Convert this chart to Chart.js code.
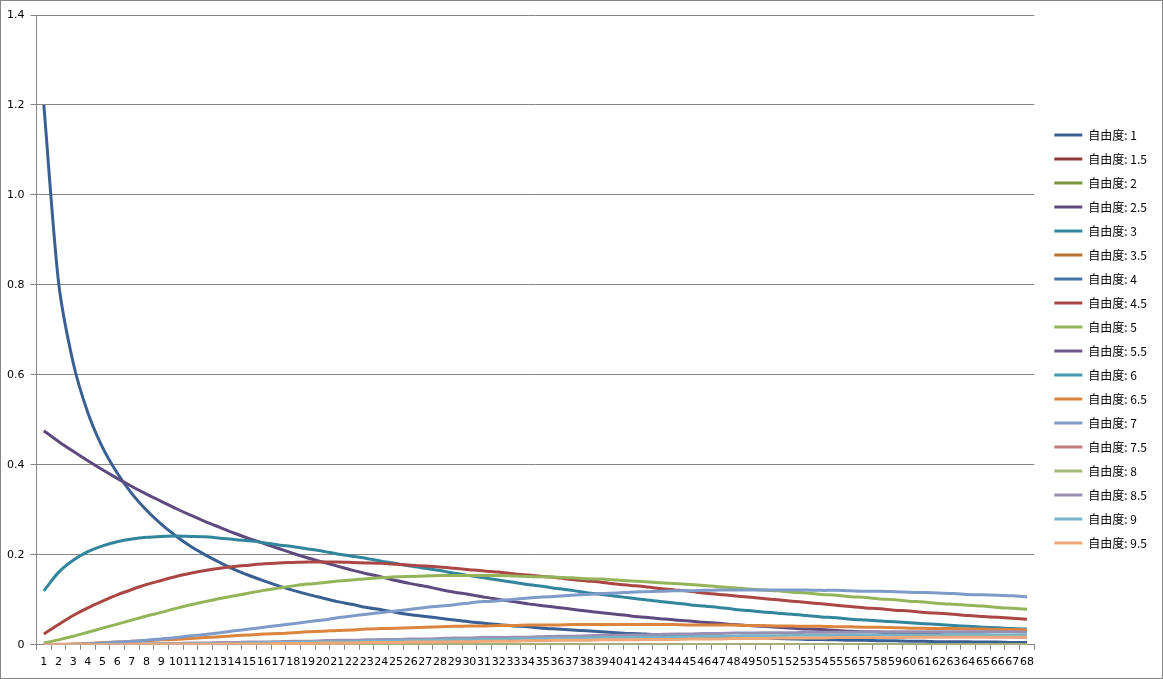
<!DOCTYPE html>
<html>
<head>
<meta charset="utf-8">
<script src="https://cdn.jsdelivr.net/npm/chart.js@4.4.1/dist/chart.umd.min.js"></script>
<style>
  html, body { margin: 0; padding: 0; background: #fff; }
  #wrap { width: 1163px; height: 679px; box-sizing: border-box; border: 1px solid #868686; }
</style>
</head>
<body>
<div id="wrap"><canvas id="chart" width="1161" height="677"></canvas></div>
<script>
// x categories
const labels = [1,2,3,4,5,6,7,8,9,10,11,12,13,14,15,16,17,18,19,20,21,22,23,24,25,26,27,28,29,30,31,32,33,34,
  35,36,37,38,39,40,41,42,43,44,45,46,47,48,49,50,51,52,53,54,55,56,57,58,59,60,61,62,63,64,65,66,67,68];

const seriesNames = ['自由度: 1','自由度: 1.5','自由度: 2','自由度: 2.5','自由度: 3','自由度: 3.5','自由度: 4','自由度: 4.5','自由度: 5',
  '自由度: 5.5','自由度: 6','自由度: 6.5','自由度: 7','自由度: 7.5','自由度: 8','自由度: 8.5','自由度: 9','自由度: 9.5'];

const dof1 = [1.200,0.807,0.627,0.516,0.439,0.382,0.336,0.299,0.268,0.242,0.219,0.200,0.183,0.167,0.154,0.142,0.131,0.121,0.112,0.104,
  0.096,0.090,0.083,0.078,0.072,0.067,0.063,0.059,0.055,0.051,0.048,0.045,0.042,0.040,0.037,0.035,0.033,0.031,0.029,0.027,
  0.025,0.024,0.022,0.021,0.020,0.019,0.018,0.017,0.016,0.015,0.014,0.013,0.012,0.012,0.011,0.010,0.010,0.009,0.009,0.008,
  0.008,0.007,0.007,0.007,0.006,0.006,0.005,0.005];

const dof2_5 = [0.476,0.452,0.430,0.409,0.389,0.370,0.352,0.335,0.319,0.303,0.288,0.274,0.261,0.248,0.236,0.225,0.214,0.203,0.193,0.184,
  0.175,0.166,0.158,0.151,0.143,0.136,0.130,0.123,0.117,0.112,0.106,0.101,0.096,0.091,0.087,0.083,0.079,0.075,0.071,0.068,
  0.064,0.061,0.058,0.055,0.053,0.050,0.048,0.045,0.043,0.041,0.039,0.037,0.035,0.034,0.032,0.030,0.029,0.028,0.026,0.025,
  0.024,0.023,0.021,0.020,0.019,0.018,0.018,0.017];

const dof3 = [0.120,0.161,0.188,0.207,0.220,0.229,0.235,0.239,0.241,0.242,0.241,0.240,0.237,0.234,0.231,0.227,0.222,0.218,0.213,0.208,
  0.202,0.197,0.192,0.186,0.181,0.175,0.170,0.165,0.159,0.154,0.149,0.144,0.139,0.134,0.130,0.125,0.121,0.116,0.112,0.108,
  0.104,0.100,0.096,0.093,0.089,0.086,0.083,0.079,0.076,0.073,0.070,0.068,0.065,0.062,0.060,0.057,0.055,0.053,0.051,0.049,
  0.047,0.045,0.043,0.041,0.039,0.038,0.036,0.035];

const dof4_5 = [0.024,0.045,0.065,0.082,0.097,0.111,0.123,0.134,0.143,0.152,0.159,0.165,0.170,0.174,0.177,0.180,0.182,0.183,0.184,0.184,
  0.184,0.183,0.182,0.181,0.179,0.177,0.175,0.173,0.170,0.167,0.164,0.162,0.158,0.155,0.152,0.149,0.145,0.142,0.139,0.135,
  0.132,0.129,0.125,0.122,0.119,0.115,0.112,0.109,0.106,0.103,0.100,0.097,0.094,0.091,0.088,0.085,0.082,0.080,0.077,0.075,
  0.072,0.070,0.068,0.065,0.063,0.061,0.059,0.057];

const dof5 = [0.004,0.011,0.019,0.028,0.037,0.046,0.055,0.064,0.072,0.081,0.089,0.096,0.103,0.109,0.115,0.121,0.126,0.131,0.135,0.138,
  0.142,0.144,0.147,0.149,0.151,0.152,0.153,0.154,0.154,0.154,0.154,0.154,0.153,0.152,0.151,0.150,0.149,0.147,0.146,0.144,
  0.142,0.140,0.138,0.136,0.134,0.132,0.129,0.127,0.124,0.122,0.120,0.117,0.115,0.112,0.110,0.107,0.105,0.102,0.100,0.097,
  0.095,0.092,0.090,0.088,0.086,0.083,0.081,0.079];

const dof6_5 = [0.000,0.001,0.002,0.003,0.005,0.006,0.008,0.009,0.011,0.012,0.014,0.016,0.018,0.020,0.022,0.024,0.025,0.027,0.029,0.030,
  0.032,0.033,0.035,0.036,0.037,0.038,0.039,0.040,0.041,0.042,0.042,0.043,0.043,0.044,0.044,0.044,0.045,0.045,0.045,0.045,
  0.045,0.045,0.045,0.045,0.044,0.044,0.044,0.044,0.043,0.043,0.042,0.042,0.041,0.041,0.040,0.040,0.039,0.039,0.038,0.037,
  0.037,0.036,0.036,0.035,0.035,0.034,0.034,0.033];

const dof7 = [0.000,0.000,0.001,0.002,0.004,0.006,0.008,0.010,0.013,0.016,0.020,0.023,0.027,0.031,0.035,0.039,0.043,0.047,0.051,0.055,
  0.060,0.064,0.068,0.072,0.075,0.079,0.083,0.086,0.089,0.093,0.096,0.098,0.101,0.104,0.106,0.108,0.110,0.112,0.114,0.115,
  0.117,0.118,0.119,0.120,0.120,0.121,0.122,0.122,0.122,0.122,0.122,0.122,0.122,0.121,0.121,0.120,0.119,0.119,0.118,0.117,
  0.116,0.115,0.114,0.112,0.111,0.110,0.109,0.107];

const dof8_5 = [0.000,0.000,0.000,0.001,0.001,0.001,0.002,0.002,0.003,0.003,0.004,0.004,0.005,0.005,0.006,0.006,0.007,0.008,0.008,0.009,
  0.010,0.010,0.011,0.012,0.012,0.013,0.013,0.014,0.015,0.015,0.016,0.016,0.017,0.017,0.018,0.019,0.019,0.020,0.021,0.021,
  0.022,0.022,0.023,0.024,0.024,0.025,0.025,0.026,0.026,0.027,0.027,0.027,0.028,0.028,0.028,0.028,0.029,0.029,0.029,0.029,
  0.029,0.029,0.029,0.029,0.029,0.029,0.029,0.028];

const dof9 = [0.000,0.000,0.000,0.000,0.001,0.001,0.001,0.001,0.002,0.002,0.002,0.003,0.003,0.003,0.004,0.004,0.005,0.005,0.006,0.006,
  0.007,0.007,0.008,0.008,0.009,0.009,0.010,0.010,0.011,0.011,0.012,0.012,0.013,0.013,0.014,0.014,0.015,0.015,0.016,0.016,
  0.017,0.017,0.017,0.018,0.018,0.019,0.019,0.019,0.020,0.020,0.020,0.021,0.021,0.021,0.021,0.022,0.022,0.022,0.022,0.022,
  0.022,0.022,0.023,0.023,0.023,0.022,0.022,0.022];

const dof9_5 = [0.000,0.000,0.000,0.000,0.000,0.000,0.001,0.001,0.001,0.001,0.001,0.001,0.002,0.002,0.002,0.002,0.003,0.003,0.003,0.004,
  0.004,0.004,0.005,0.005,0.005,0.006,0.006,0.006,0.007,0.007,0.008,0.008,0.008,0.009,0.009,0.010,0.010,0.010,0.011,0.011,
  0.011,0.012,0.012,0.012,0.013,0.013,0.013,0.014,0.014,0.014,0.015,0.015,0.015,0.015,0.016,0.016,0.016,0.016,0.016,0.017,
  0.017,0.017,0.017,0.017,0.017,0.017,0.017,0.017];

// series that lie flat on the axis
const flat = [0,0,0,0,0,0,0,0,0,0,0,0,0,0,0,0,0,0,0,0,0,0,0,0,0,0,0,0,0,0,0,0,0,0,
  0,0,0,0,0,0,0,0,0,0,0,0,0,0,0,0,0,0,0,0,0,0,0,0,0,0,0,0,0,0,0,0,0,0];

const seriesValues = [dof1, flat, flat, dof2_5, dof3, flat, flat, dof4_5, dof5,
  flat, flat, dof6_5, dof7, flat, flat, dof8_5, dof9, dof9_5];

const colors = ['#3A5F92','#8E3B3A','#77933C','#5E4A7E','#31859C','#B7712F','#4572A7','#AA4643','#94B459',
  '#71588F','#4198AF','#DB843D','#7E9AC8','#C27D7C','#A5BD78','#9A8FB2','#75B5CA','#F0A87A'];

const gridColor = '#868686';

// Chart.js paints the first dataset on top, Excel the last one, so feed them reversed
const datasets = seriesNames.map((name, i) => ({
  label: name,
  data: seriesValues[i],
  borderColor: colors[i],
  backgroundColor: colors[i],
  borderWidth: 3,
  pointRadius: 0,
  tension: 0.25,
  fill: false
})).reverse();

// leave a wider gap between plot and legend, and lift the legend a bit
const legendPlacement = {
  id: 'legendPlacement',
  afterInit(chart) {
    const legend = chart.legend;
    const fit = legend.fit;
    legend.fit = function () { fit.call(this); this.width += 13; };
    const draw = legend.draw;
    legend.draw = function () {
      this.left += 8; this.top -= 6; this.bottom -= 6;
      draw.apply(this, arguments);
      this.left -= 8; this.top += 6; this.bottom += 6;
    };
  }
};

new Chart(document.getElementById('chart'), {
  type: 'line',
  data: { labels: labels, datasets: datasets },
  plugins: [legendPlacement],
  options: {
    responsive: false,
    animation: false,
    layout: { padding: { top: 14, left: 0, right: 0, bottom: 3 } },
    plugins: {
      tooltip: { enabled: false },
      legend: {
        position: 'right',
        reverse: true,
        labels: {
          usePointStyle: true,
          pointStyle: 'line',
          pointStyleWidth: 28,
          boxHeight: 12,
          padding: 12,
          color: '#000',
          font: { family: '"Noto Sans CJK SC", "DejaVu Sans", sans-serif', size: 12 }
        }
      }
    },
    scales: {
      x: {
        offset: true,
        grid: { display: true, drawOnChartArea: false, drawTicks: true, tickLength: 5, offset: true, color: gridColor },
        border: { color: gridColor },
        ticks: {
          autoSkip: false, maxRotation: 0, minRotation: 0, padding: 6, color: '#000',
          font: { family: '"DejaVu Sans", sans-serif', size: 11 }
        }
      },
      y: {
        min: 0,
        max: 1.4,
        ticks: {
          stepSize: 0.2, padding: 6, color: '#000',
          font: { family: '"DejaVu Sans", sans-serif', size: 11 }
        },
        grid: { color: gridColor, tickLength: 6 },
        border: { color: gridColor }
      }
    }
  }
});
</script>
</body>
</html>
